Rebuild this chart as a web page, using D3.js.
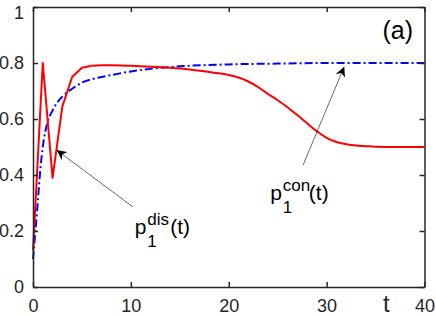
<!DOCTYPE html>
<html>
<head>
<meta charset="utf-8">
<script src="https://cdn.jsdelivr.net/npm/d3@7"></script>
<style>
  body { margin: 0; background: #fff; }
  svg { display: block; font-family: "Liberation Sans", Arial, sans-serif; }
</style>
</head>
<body>
<svg id="chart" width="436" height="316"></svg>
<script>
// p1^dis(t), red solid
const disT = [0, 1, 2, 3, 4, 5, 6, 7, 8, 10, 12, 14, 16, 18, 19, 20, 21, 22, 23, 24, 25, 26, 27, 28, 29, 30, 31, 32, 33, 34, 35, 37, 40];
const disP = [0.13, 0.80, 0.39, 0.645, 0.75, 0.783, 0.79, 0.792, 0.792, 0.79, 0.787, 0.783, 0.777, 0.768, 0.763, 0.757, 0.748, 0.734, 0.714, 0.69, 0.667, 0.642, 0.614, 0.585, 0.556, 0.533, 0.518, 0.51, 0.505, 0.503, 0.501, 0.5, 0.5];

// p1^con(t), blue dash-dot
const conT = [0, 0.25, 0.5, 0.75, 1, 1.5, 2, 2.5, 3, 4, 5, 6, 7, 8, 10, 12, 15, 20, 25, 30, 40];
const conP = [0.1, 0.2, 0.31, 0.42, 0.5, 0.59, 0.63, 0.66, 0.68, 0.708, 0.73, 0.742, 0.75, 0.757, 0.77, 0.779, 0.788, 0.795, 0.798, 0.8, 0.8];

const xTicks = [0, 10, 20, 30, 40];
const yTicks = [0, 0.2, 0.4, 0.6, 0.8, 1];
const yTickLabels = ['0', '0.2', '0.4', '0.6', '0.8', '1'];

const margin = { top: 7, right: 11.5, bottom: 29, left: 33 };
const width = 436 - margin.left - margin.right;
const height = 316 - margin.top - margin.bottom;
const axisColor = '#262626';

const svg = d3.select('#chart');
const g = svg.append('g').attr('transform', `translate(${margin.left},${margin.top})`);

const x = d3.scaleLinear().domain([0, 40]).range([0, width]);
const y = d3.scaleLinear().domain([0, 1]).range([height, 0]);

const line = d3.line().x(d => x(d[0])).y(d => y(d[1]));
const smooth = d3.line().x(d => x(d[0])).y(d => y(d[1])).curve(d3.curveMonotoneX);

const disPts = d3.zip(disT, disP);
// early oscillation is drawn as straight segments, the rest smooth
const split = disT.indexOf(6);

g.append('path')
  .datum(d3.zip(conT, conP))
  .attr('fill', 'none')
  .attr('stroke', '#0000ff')
  .attr('stroke-width', 2)
  .attr('stroke-dasharray', '8,3,2,3')
  .attr('d', smooth);

g.append('path')
  .datum(disPts.slice(0, split + 1))
  .attr('fill', 'none')
  .attr('stroke', '#ff0000')
  .attr('stroke-width', 2)
  .attr('stroke-linejoin', 'round')
  .attr('d', line);

g.append('path')
  .datum(disPts.slice(split))
  .attr('fill', 'none')
  .attr('stroke', '#ff0000')
  .attr('stroke-width', 2)
  .attr('d', smooth);

// axes, box style with inward ticks
const styleAxis = sel => {
  sel.select('.domain').attr('stroke', axisColor).attr('stroke-width', 1.5);
  sel.selectAll('.tick line').attr('stroke', axisColor).attr('stroke-width', 1.5);
  sel.selectAll('.tick text').attr('fill', axisColor).attr('font-size', 18)
    .attr('font-family', '"Liberation Sans", Arial, sans-serif');
};

g.append('g')
  .attr('transform', `translate(0,${height})`)
  .call(d3.axisBottom(x).tickValues(xTicks).tickSizeInner(-5).tickSizeOuter(0).tickPadding(12))
  .call(styleAxis);

g.append('g')
  .call(d3.axisTop(x).tickValues(xTicks).tickSizeInner(-5).tickSizeOuter(0).tickFormat(''))
  .call(styleAxis);

g.append('g')
  .call(d3.axisLeft(y).tickValues(yTicks).tickSizeInner(-5).tickSizeOuter(0).tickPadding(9)
    .tickFormat((d, i) => yTickLabels[i]))
  .call(styleAxis)
  .call(sel => sel.selectAll('.tick text').filter(d => d === 1).attr('dy', '0.62em'));

g.append('g')
  .attr('transform', `translate(${width},0)`)
  .call(d3.axisRight(y).tickValues(yTicks).tickSizeInner(-5).tickSizeOuter(0).tickFormat(''))
  .call(styleAxis);

// x label "t"
g.append('text')
  .attr('x', x(36.1))
  .attr('y', height + 25)
  .attr('text-anchor', 'middle')
  .attr('font-size', 24)
  .attr('fill', axisColor)
  .text('t');

// panel tag
g.append('text')
  .attr('x', x(35.7))
  .attr('y', y(0.886))
  .attr('font-size', 25)
  .attr('fill', '#000')
  .text('(a)');

// annotations
svg.append('defs').append('marker')
  .attr('id', 'head')
  .attr('viewBox', '0 0 10 10')
  .attr('refX', 10).attr('refY', 5)
  .attr('markerWidth', 10).attr('markerHeight', 10)
  .attr('markerUnits', 'userSpaceOnUse')
  .attr('orient', 'auto')
  .append('path')
  .attr('d', 'M0,0 L10,5 L0,10 L3,5 Z')
  .attr('fill', '#000');

const arrows = [
  { from: [10.2, 0.286], to: [2.42, 0.489] },
  { from: [27.6, 0.436], to: [31.8, 0.787] }
];

g.selectAll('.arrow')
  .data(arrows)
  .join('line')
  .attr('class', 'arrow')
  .attr('x1', d => x(d.from[0])).attr('y1', d => y(d.from[1]))
  .attr('x2', d => x(d.to[0])).attr('y2', d => y(d.to[1]))
  .attr('stroke', '#000')
  .attr('stroke-width', 0.6)
  .attr('marker-end', 'url(#head)');

const labels = [
  { t: 10.4, v: 0.191, sup: 'dis' },
  { t: 24.25, v: 0.3125, sup: 'con' }
];

labels.forEach(l => {
  const tx = g.append('text')
    .attr('x', x(l.t))
    .attr('y', y(l.v))
    .attr('font-size', 21)
    .attr('fill', '#000');
  tx.append('tspan').text('p');
  const px = x(l.t) + 12.5;
  tx.append('tspan').attr('x', px).attr('dy', -8.5).attr('font-size', 17).text(l.sup);
  tx.append('tspan').attr('x', px).attr('dy', 22).attr('font-size', 17).text('1');
  const supW = l.sup === 'dis' ? 23 : 26;
  tx.append('tspan').attr('x', px + supW).attr('dy', -13.5).text('(t)');
});
</script>
</body>
</html>
